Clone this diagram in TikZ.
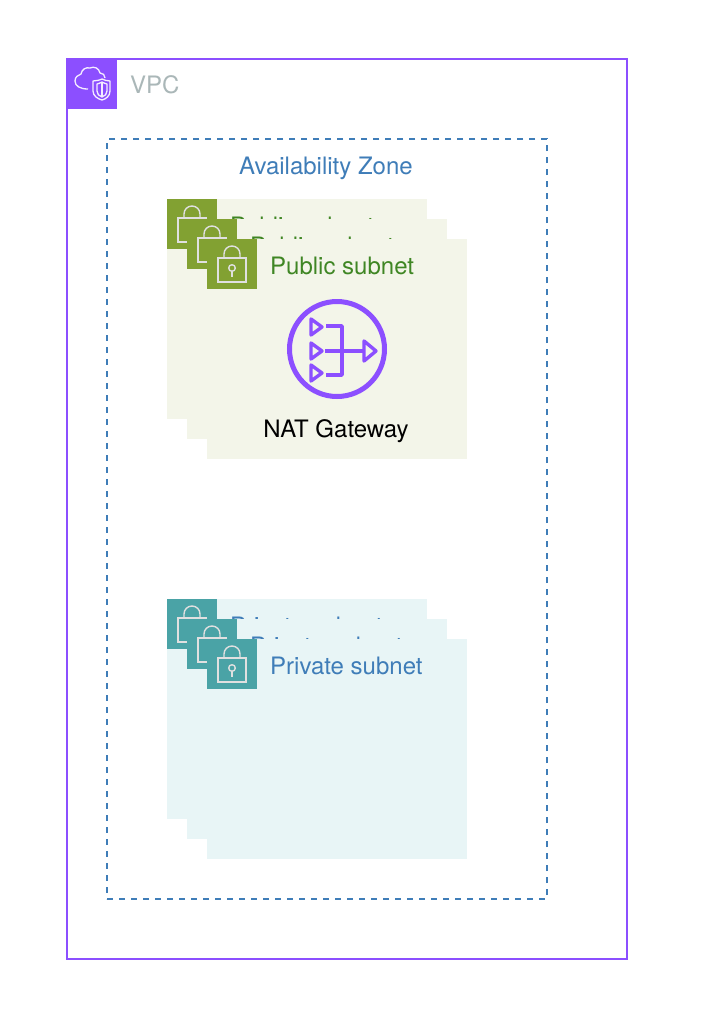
\documentclass[tikz,border=0pt]{standalone}
\usepackage{fontspec}
\setmainfont{TeX Gyre Heros}
\definecolor{vpcpurple}{HTML}{8C4FFF}
\definecolor{azblue}{HTML}{3F7DB8}
\definecolor{vpcgray}{HTML}{AAB7B8}
\definecolor{pubfill}{HTML}{F3F5E9}
\definecolor{pubicon}{HTML}{82A132}
\definecolor{pubtext}{HTML}{3F8624}
\definecolor{privfill}{HTML}{E8F5F6}
\definecolor{privicon}{HTML}{4AA3A6}
\tikzset{
  label24/.style={inner sep=0pt,font=\fontsize{24}{28}\selectfont},
  pubbox/.style={fill=pubfill,minimum width=260,minimum height=220,inner sep=0pt,outer sep=0pt,anchor=north west},
  privbox/.style={fill=privfill,minimum width=260,minimum height=220,inner sep=0pt,outer sep=0pt,anchor=north west},
  pubbadge/.style={fill=pubicon,minimum size=50,inner sep=0pt,outer sep=0pt,anchor=north west},
  privbadge/.style={fill=privicon,minimum size=50,inner sep=0pt,outer sep=0pt,anchor=north west},
  publabel/.style={label24,text=pubtext,anchor=west},
  privlabel/.style={label24,text=azblue,anchor=west},
  lockicon/.pic={
    \draw[white!88!black,line width=1.4] (11,19) rectangle (39,43);
    \draw[white!88!black,line width=1.4] (17,19) -- (17,15) arc (180:360:8) -- (33,19);
    \draw[white!88!black,line width=1.4] (25,29) circle (3.3);
    \draw[white!88!black,line width=1.4] (25,32.3) -- (25,38);
  }
}
\begin{document}
\begin{tikzpicture}[x=1pt,y=-1pt]
  \useasboundingbox (0,0) rectangle (704,1018);
  \fill[white] (0,0) rectangle (704,1018);
  % vpc frame
  \node[draw=vpcpurple,line width=2,minimum width=560,minimum height=900,inner sep=0pt,outer sep=0pt,anchor=north west] (vpc) at (67,59) {};
  \node[fill=vpcpurple,minimum size=51,inner sep=0pt,outer sep=0pt,anchor=north west] (vpcbadge) at (66,58) {};
  \begin{scope}[shift={(vpc.north west)},white!90!vpcpurple,line width=1.3,line join=round]
    \draw (21,30)
    .. controls (13,30) and (8,27) .. (8,22)
    .. controls (8,18) and (11,16) .. (14,15)
    .. controls (15,10) and (19,8) .. (23,9)
    .. controls (27,7) and (32,9) .. (33,14)
    .. controls (36,14) and (38,16) .. (38,19);
    \draw (35,20) .. controls (33,21) and (29,22) .. (26,22)
    -- (26,32) .. controls (26,37) and (31,40) .. (35,41)
    .. controls (39,40) and (43,37) .. (43,32)
    -- (43,22) .. controls (40,22) and (37,21) .. (35,20) -- cycle;
    \draw (35,23) .. controls (33,24) and (31,25) .. (30,25)
    -- (30,32) .. controls (30,35) and (32,37) .. (35,38)
    .. controls (38,37) and (40,35) .. (40,32)
    -- (40,25) .. controls (39,25) and (37,24) .. (35,23) -- cycle;
    \draw (35,24) -- (35,37);
  \end{scope}
  \node[label24,text=vpcgray,anchor=west] (vpclabel) at (130,85) {VPC};
  % availability zone
  \node[draw=azblue,dash pattern=on 6pt off 6pt,line width=2,minimum width=440,minimum height=760,inner sep=0pt,outer sep=0pt,anchor=north west] (az) at (107,139) {};
  \node[label24,text=azblue] (azlabel) at (326,168) {Availability Zone};
  % public subnets
  \node[pubbox] (pubA) at (167,199) {};
  \node[pubbadge] (pubAicon) at (167,199) {};
  \pic at (pubAicon.north west) {lockicon};
  \node[publabel] (pubAlabel) at (230,226) {Public subnet};
  \node[pubbox] (pubB) at (187,219) {};
  \node[pubbadge] (pubBicon) at (187,219) {};
  \pic at (pubBicon.north west) {lockicon};
  \node[publabel] (pubBlabel) at (250,246) {Public subnet};
  \node[pubbox] (pubC) at (207,239) {};
  \node[pubbadge] (pubCicon) at (207,239) {};
  \pic at (pubCicon.north west) {lockicon};
  \node[publabel] (pubClabel) at (270,266) {Public subnet};
  % nat gateway
  \node[draw=vpcpurple,circle,line width=5,minimum size=95,inner sep=0pt,outer sep=0pt] (nat) at (337,349) {};
  \begin{scope}[vpcpurple,line width=3.4,line join=round]
    \draw (311,319) -- (322,327) -- (311,335) -- cycle;
    \draw (311,343) -- (322,351) -- (311,359) -- cycle;
    \draw (311,365) -- (322,373) -- (311,381) -- cycle;
    \draw (326,326) -- (342,326) -- (342,375) -- (326,375);
    \draw (325,351) -- (364,351);
    \draw (364,341) -- (376,351) -- (364,361) -- cycle;
  \end{scope}
  \node[label24,text=black] (natlabel) at (336,431) {NAT Gateway};
  % private subnets
  \node[privbox] (privA) at (167,599) {};
  \node[privbadge] (privAicon) at (167,599) {};
  \pic at (privAicon.north west) {lockicon};
  \node[privlabel] (privAlabel) at (230,626) {Private subnet};
  \node[privbox] (privB) at (187,619) {};
  \node[privbadge] (privBicon) at (187,619) {};
  \pic at (privBicon.north west) {lockicon};
  \node[privlabel] (privBlabel) at (250,646) {Private subnet};
  \node[privbox] (privC) at (207,639) {};
  \node[privbadge] (privCicon) at (207,639) {};
  \pic at (privCicon.north west) {lockicon};
  \node[privlabel] (privClabel) at (270,666) {Private subnet};
\end{tikzpicture}
\end{document}
